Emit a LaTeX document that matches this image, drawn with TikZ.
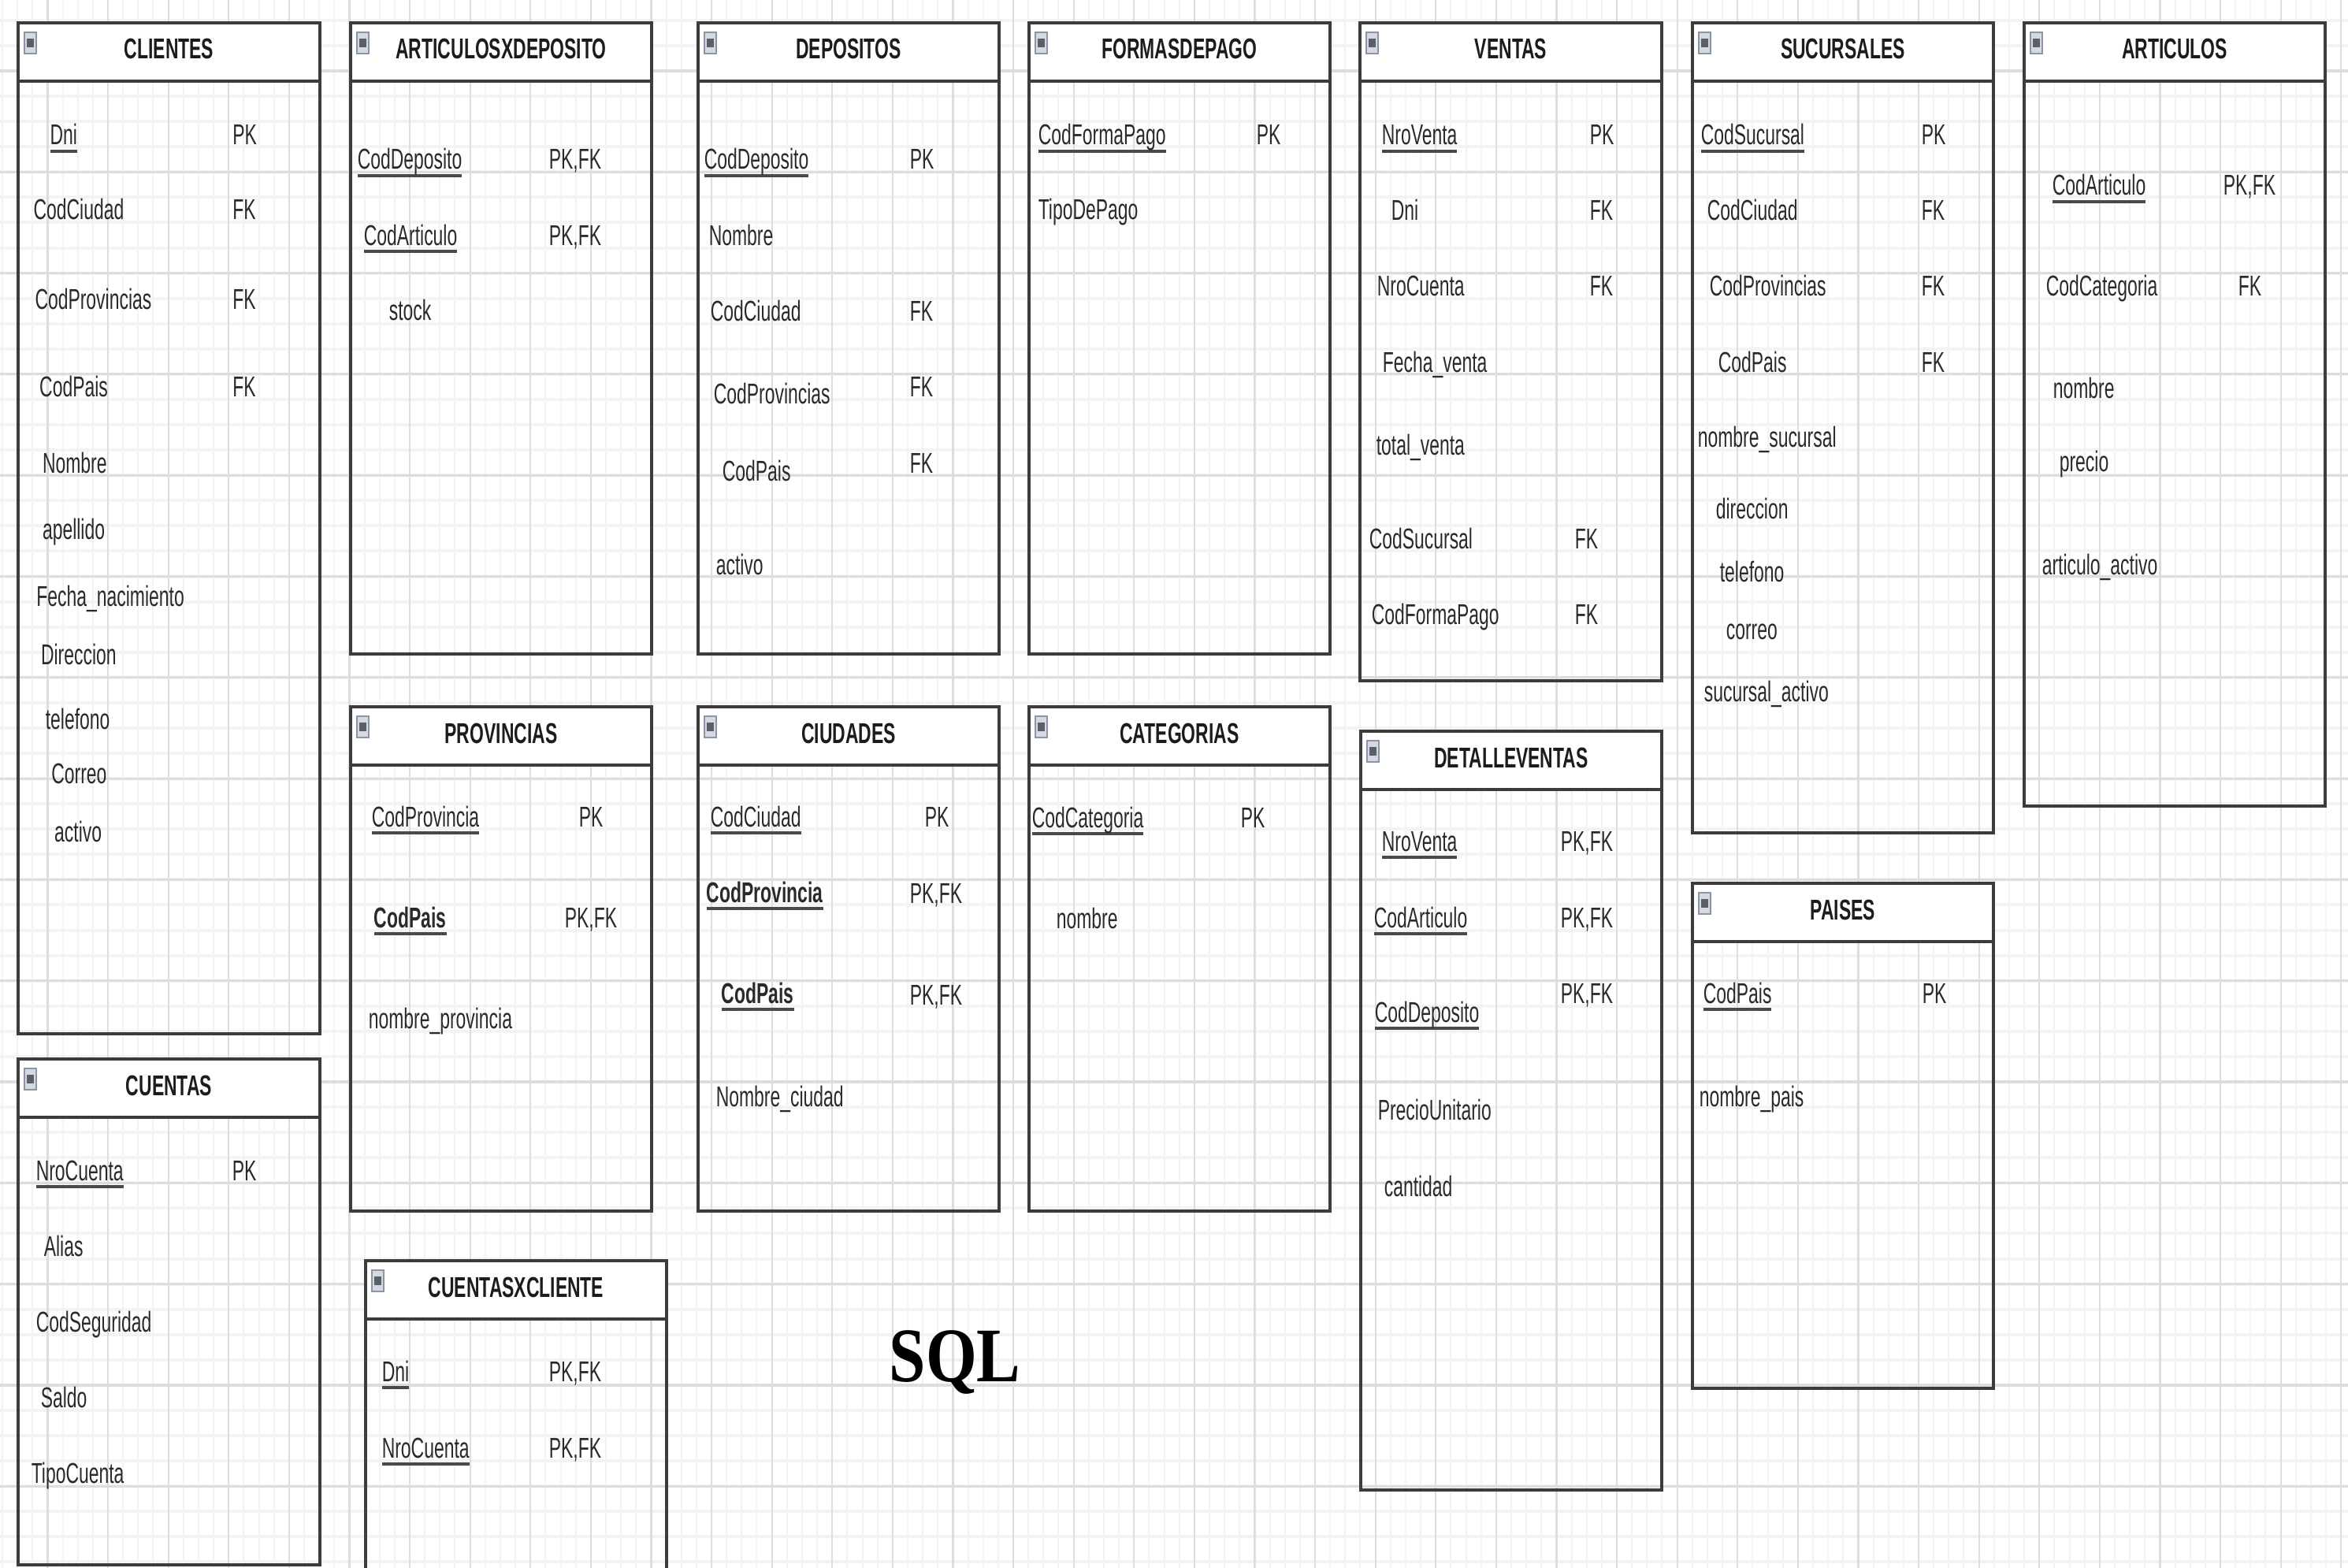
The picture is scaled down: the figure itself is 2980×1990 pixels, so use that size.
\documentclass[tikz,border=0pt]{standalone}
\usepackage{fontspec}
\newfontfamily\erfont[FakeStretch=0.63]{Liberation Sans}
\newfontfamily\sqlfont[FakeStretch=0.85]{Liberation Serif}
\definecolor{gridminor}{HTML}{F3F3F3}
\definecolor{gridmajor}{HTML}{DDDDDD}
\definecolor{boxc}{HTML}{3C3C3C}
\definecolor{txtc}{HTML}{2A2A2A}
\definecolor{hdrc}{HTML}{1C1C1C}
\definecolor{ulc}{HTML}{4A4A4A}
\definecolor{iconframe}{HTML}{8A95A8}
\definecolor{iconfill}{HTML}{D5DAE2}
\definecolor{iconbar}{HTML}{5A5F68}
\tikzset{
  minorv/.style={draw=gridminor, line width=0.5pt},
  minorh/.style={draw=gridminor, line width=1pt},
  majorv/.style={draw=gridmajor, line width=0.55pt},
  majorh/.style={draw=gridmajor, line width=0.8pt},
  boxline/.style={draw=boxc, line width=0.9pt},
  hdrline/.style={draw=boxc, line width=1.2pt},
  iconbox/.style={draw=iconframe, fill=iconfill, line width=0.5pt},
  hdr/.style={anchor=base, inner sep=0pt, font=\erfont\bfseries\fontsize{9.1}{11}\selectfont, text=hdrc},
  fld/.style={anchor=base west, inner sep=0pt, font=\erfont\fontsize{9.1}{11}\selectfont, text=txtc},
  sqltxt/.style={anchor=base west, inner sep=0pt, font=\sqlfont\bfseries\fontsize{24.5}{28}\selectfont, text=black}
}
\newcommand\fkul[1]{\setbox0=\hbox{#1}\rlap{\textcolor{ulc}{\rule[-2.5pt]{\wd0}{1pt}}}\box0}
\newcommand\ertable[6]{%
  \fill[white] (#2,#3) rectangle (#4,#3+74);
  \draw[boxline] (#2,#3) rectangle (#4,#5);
  \draw[hdrline] (#2,#3+74) -- (#4,#3+74);
  \draw[iconbox] (#2+8,#3+12) rectangle (#2+23,#3+39);
  \fill[iconbar] (#2+11,#3+20) rectangle (#2+20,#3+31);
  \node[hdr] (#1) at ({(#2+#4)/2},#3+46) {#6};
}
\newcommand\fld[4]{\node[fld] (#1) at (#2,#3) {#4};}
\begin{document}
\begin{tikzpicture}[x=0.25pt,y=-0.25pt]
\useasboundingbox (0,0) rectangle (2980,1990);
\clip (0,0) rectangle (2980,1990);
\fill[white] (0,0) rectangle (2980,1990);
% grid
\foreach \i in {0,...,157} \draw[minorv] ({-16.2+19.15*\i},0) -- ({-16.2+19.15*\i},1990);
\foreach \j in {0,...,63} \draw[minorh] (0,{-38.3+32.075*\j}) -- (2980,{-38.3+32.075*\j});
\foreach \i in {0,...,39} \draw[majorv] ({-16.2+76.6*\i},0) -- ({-16.2+76.6*\i},1990);
\foreach \j in {0,...,16} \draw[majorh] (0,{-38.3+128.3*\j}) -- (2980,{-38.3+128.3*\j});

% ---------- CLIENTES
\ertable{clientes}{23}{29}{406}{1312}{CLIENTES}
\fld{cl1}{62.7}{184}{\fkul{Dni}}
\fld{cl1k}{294.6}{184}{PK}
\fld{cl2}{41.8}{279}{CodCiudad}
\fld{cl2k}{294.6}{279}{FK}
\fld{cl3}{43.7}{393}{CodProvincias}
\fld{cl3k}{294.6}{393}{FK}
\fld{cl4}{49.4}{503}{CodPais}
\fld{cl4k}{294.6}{503}{FK}
\fld{cl5}{53.2}{600}{Nombre}
\fld{cl6}{53.2}{684}{apellido}
\fld{cl7}{45.6}{769}{Fecha\_nacimiento}
\fld{cl8}{51.3}{843}{Direccion}
\fld{cl9}{57}{925}{telefono}
\fld{cl10}{64.6}{994}{Correo}
\fld{cl11}{68.4}{1068}{activo}

% ---------- ARTICULOSXDEPOSITO
\ertable{axd}{445}{29}{827}{830}{ARTICULOSXDEPOSITO}
\fld{axd1}{453}{215}{\fkul{CodDeposito}}
\fld{axd1k}{696}{215}{PK,FK}
\fld{axd2}{461}{311}{\fkul{CodArticulo}}
\fld{axd2k}{696}{311}{PK,FK}
\fld{axd3}{493}{407}{stock}

% ---------- DEPOSITOS
\ertable{depositos}{886}{29}{1268}{830}{DEPOSITOS}
\fld{dep1}{893}{215}{\fkul{CodDeposito}}
\fld{dep1k}{1154}{215}{PK}
\fld{dep2}{899}{311}{Nombre}
\fld{dep3}{901}{408}{CodCiudad}
\fld{dep3k}{1154}{408}{FK}
\fld{dep4}{905}{513}{CodProvincias}
\fld{dep4k}{1154}{503}{FK}
\fld{dep5}{916}{610}{CodPais}
\fld{dep5k}{1154}{600}{FK}
\fld{dep6}{908}{729}{activo}

% ---------- FORMASDEPAGO
\ertable{formas}{1306}{29}{1688}{830}{FORMASDEPAGO}
\fld{fp1}{1317}{184}{\fkul{CodFormaPago}}
\fld{fp1k}{1594}{184}{PK}
\fld{fp2}{1317}{279}{TipoDePago}

% ---------- VENTAS
\ertable{ventas}{1726}{29}{2109}{864}{VENTAS}
\fld{ve1}{1753}{184}{\fkul{NroVenta}}
\fld{ve1k}{2017}{184}{PK}
\fld{ve2}{1765}{280}{Dni}
\fld{ve2k}{2017}{280}{FK}
\fld{ve3}{1747}{376}{NroCuenta}
\fld{ve3k}{2017}{376}{FK}
\fld{ve4}{1754}{472}{Fecha\_venta}
\fld{ve5}{1746}{577}{total\_venta}
\fld{ve6}{1737}{696}{CodSucursal}
\fld{ve6k}{1998}{696}{FK}
\fld{ve7}{1740}{792}{CodFormaPago}
\fld{ve7k}{1998}{792}{FK}

% ---------- SUCURSALES
\ertable{sucursales}{2148}{29}{2530}{1057}{SUCURSALES}
\fld{su1}{2158}{184}{\fkul{CodSucursal}}
\fld{su1k}{2438}{184}{PK}
\fld{su2}{2166}{280}{CodCiudad}
\fld{su2k}{2438}{280}{FK}
\fld{su3}{2169}{376}{CodProvincias}
\fld{su3k}{2438}{376}{FK}
\fld{su4}{2180}{472}{CodPais}
\fld{su4k}{2438}{472}{FK}
\fld{su5}{2154}{568}{nombre\_sucursal}
\fld{su6}{2177}{658}{direccion}
\fld{su7}{2182}{738}{telefono}
\fld{su8}{2190}{811}{correo}
\fld{su9}{2162}{890}{sucursal\_activo}

% ---------- ARTICULOS
\ertable{articulos}{2569}{29}{2951}{1023}{ARTICULOS}
\fld{ar1}{2604}{248}{\fkul{CodArticulo}}
\fld{ar1k}{2821}{248}{PK,FK}
\fld{ar2}{2596}{376}{CodCategoria}
\fld{ar2k}{2840}{376}{FK}
\fld{ar3}{2605}{505}{nombre}
\fld{ar4}{2613}{599}{precio}
\fld{ar5}{2591}{729}{articulo\_activo}

% ---------- PROVINCIAS
\ertable{provincias}{445}{897}{827}{1537}{PROVINCIAS}
\fld{pr1}{471}{1049}{\fkul{CodProvincia}}
\fld{pr1k}{734}{1049}{PK}
\fld{pr2}{474}{1177}{\fkul{\bfseries CodPais}}
\fld{pr2k}{716}{1177}{PK,FK}
\fld{pr3}{467}{1305}{nombre\_provincia}

% ---------- CIUDADES
\ertable{ciudades}{886}{897}{1268}{1537}{CIUDADES}
\fld{ci1}{901}{1049}{\fkul{CodCiudad}}
\fld{ci1k}{1173}{1049}{PK}
\fld{ci2}{896}{1145}{\fkul{\bfseries CodProvincia}}
\fld{ci2k}{1154}{1146}{PK,FK}
\fld{ci3}{915}{1273}{\fkul{\bfseries CodPais}}
\fld{ci3k}{1154}{1275}{PK,FK}
\fld{ci4}{908}{1404}{Nombre\_ciudad}

% ---------- CATEGORIAS
\ertable{categorias}{1306}{897}{1688}{1537}{CATEGORIAS}
\fld{ca1}{1309}{1050}{\fkul{CodCategoria}}
\fld{ca1k}{1574}{1050}{PK}
\fld{ca2}{1340}{1178}{nombre}

% ---------- DETALLEVENTAS
\ertable{detalle}{1727}{928}{2109}{1891}{DETALLEVENTAS}
\fld{dv1}{1753}{1080}{\fkul{NroVenta}}
\fld{dv1k}{1980}{1080}{PK,FK}
\fld{dv2}{1743}{1177}{\fkul{CodArticulo}}
\fld{dv2k}{1980}{1177}{PK,FK}
\fld{dv3}{1744}{1297}{\fkul{CodDeposito}}
\fld{dv3k}{1980}{1273}{PK,FK}
\fld{dv4}{1748}{1421}{PrecioUnitario}
\fld{dv5}{1756}{1518}{cantidad}

% ---------- PAISES
\ertable{paises}{2148}{1121}{2530}{1762}{PAISES}
\fld{pa1}{2161}{1273}{\fkul{CodPais}}
\fld{pa1k}{2439}{1273}{PK}
\fld{pa2}{2156}{1404}{nombre\_pais}

% ---------- CUENTAS
\ertable{cuentas}{23}{1344}{406}{1986}{CUENTAS}
\fld{cu1}{45}{1498}{\fkul{NroCuenta}}
\fld{cu1k}{294}{1498}{PK}
\fld{cu2}{55}{1594}{Alias}
\fld{cu3}{45}{1690}{CodSeguridad}
\fld{cu4}{51}{1786}{Saldo}
\fld{cu5}{39}{1882}{TipoCuenta}

% ---------- CUENTASXCLIENTE
\ertable{cxc}{464}{1600}{846}{2020}{CUENTASXCLIENTE}
\fld{cx1}{484}{1753}{\fkul{Dni}}
\fld{cx1k}{696}{1753}{PK,FK}
\fld{cx2}{484}{1850}{\fkul{NroCuenta}}
\fld{cx2k}{696}{1850}{PK,FK}

% ---------- SQL
\node[sqltxt] (sql) at (1128,1753) {SQL};
\end{tikzpicture}
\end{document}
